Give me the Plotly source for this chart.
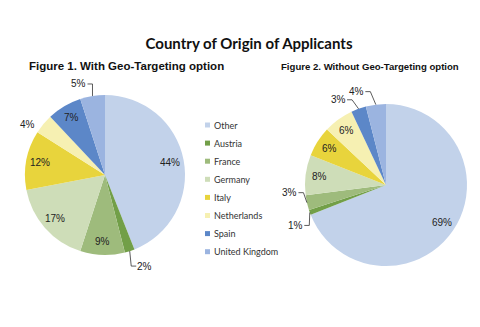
import math
import plotly.graph_objects as go

categories = ["Other", "Austria", "France", "Germany", "Italy", "Netherlands", "Spain", "United Kingdom"]
with_geo = [44, 2, 9, 17, 12, 4, 7, 5]
without_geo = [69, 1, 3, 8, 6, 6, 3, 4]
colors = ["#C2D2EA", "#729F48", "#9EBB7C", "#CEDDB8", "#E8D43C", "#F6F0B2", "#5C87C8", "#9BB4E0"]

W, H = 480, 327

# layout: pie centre (px) and radius (px)
PIES = [
    dict(values=with_geo, cx=105, cy=175, r=80,
         outside={1: (15, 15, True), 5: (-16, 0, False), 7: (-13.5, -12, True)}),
    dict(values=without_geo, cx=386, cy=185, r=81,
         outside={1: (-14, 13, True), 2: (-17, -10, True), 6: (-20, -9, True), 7: (-19, -13, True)}),
]
INSIDE_R = 0.83
LABEL_FONT = dict(family="Liberation Sans", size=10, color="#222222")


def px(x, y):
    return x / W, 1 - y / H


fig = go.Figure()
annotations = []
shapes = []

for p in PIES:
    cx, cy, r = p["cx"], p["cy"], p["r"]
    fig.add_trace(go.Pie(
        labels=categories, values=p["values"], sort=False, direction="clockwise", rotation=0,
        marker=dict(colors=colors, line=dict(width=0)),
        textinfo="none", hoverinfo="label+percent", showlegend=False,
        domain=dict(x=[(cx - r) / W, (cx + r) / W], y=[1 - (cy + r) / H, 1 - (cy - r) / H]),
    ))
    total = sum(p["values"])
    cum = 0
    for i, v in enumerate(p["values"]):
        ang = math.radians(360 * (cum + v / 2) / total)
        cum += v
        s, c = math.sin(ang), math.cos(ang)
        text = f"{v}%"
        if i in p["outside"]:
            dx, dy, line = p["outside"][i]
            ex, ey = cx + r * s, cy - r * c
            lx, ly = ex + dx, ey + dy
            x0, y0 = px(lx, ly)
            annotations.append(dict(text=text, x=x0, y=y0, xref="paper", yref="paper",
                                    xanchor="center", yanchor="middle", showarrow=False,
                                    font=LABEL_FONT))
            if line:
                sign = 1 if ex > lx else -1
                hx0 = lx + sign * 8.5
                hx1 = hx0 + sign * 5
                pts = [px(hx0, ly), px(hx1, ly), px(ex, ey)]
                path = "M " + " L ".join(f"{a:.5f},{b:.5f}" for a, b in pts)
                shapes.append(dict(type="path", path=path, xref="paper", yref="paper",
                                   line=dict(color="#333333", width=0.8)))
        else:
            x0, y0 = px(cx + INSIDE_R * r * s, cy - INSIDE_R * r * c)
            annotations.append(dict(text=text, x=x0, y=y0, xref="paper", yref="paper",
                                    xanchor="center", yanchor="middle", showarrow=False,
                                    font=LABEL_FONT))

# legend (small square swatches like the original)
LEG_X, LEG_Y, LEG_STEP, SW = 205, 125, 18.1, 5
for i, (name, col) in enumerate(zip(categories, colors)):
    yc = LEG_Y + i * LEG_STEP
    x0, y0 = px(LEG_X, yc + SW / 2)
    x1, y1 = px(LEG_X + SW, yc - SW / 2)
    shapes.append(dict(type="rect", xref="paper", yref="paper", x0=x0, y0=y0, x1=x1, y1=y1,
                       fillcolor=col, line=dict(width=0)))
    tx, ty = px(LEG_X + SW + 2, yc)
    annotations.append(dict(text=name, x=tx, y=ty, xref="paper", yref="paper",
                            xanchor="left", yanchor="middle", showarrow=False,
                            font=dict(family="Lato", size=9, color="#333333")))

annotations += [
    dict(text="<b>Figure 1. With Geo-Targeting option</b>", x=126 / W, y=1 - 66 / H,
         xref="paper", yref="paper", xanchor="center", yanchor="middle", showarrow=False,
         font=dict(family="Liberation Sans", size=11.5, color="#111111")),
    dict(text="<b>Figure 2. Without Geo-Targeting option</b>", x=369.5 / W, y=1 - 66.5 / H,
         xref="paper", yref="paper", xanchor="center", yanchor="middle", showarrow=False,
         font=dict(family="Liberation Sans", size=9.6, color="#111111")),
]

fig.update_layout(
    width=W, height=H,
    margin=dict(l=0, r=0, t=0, b=0),
    paper_bgcolor="white", plot_bgcolor="white",
    showlegend=False,
    title=dict(text="<b>Country of Origin of Applicants</b>", x=249 / W, xanchor="center",
               y=1 - 44 / H, yanchor="middle",
               font=dict(family="Lato", size=15, color="#111111")),
    annotations=annotations,
    shapes=shapes,
)

fig.write_html("out.html")
